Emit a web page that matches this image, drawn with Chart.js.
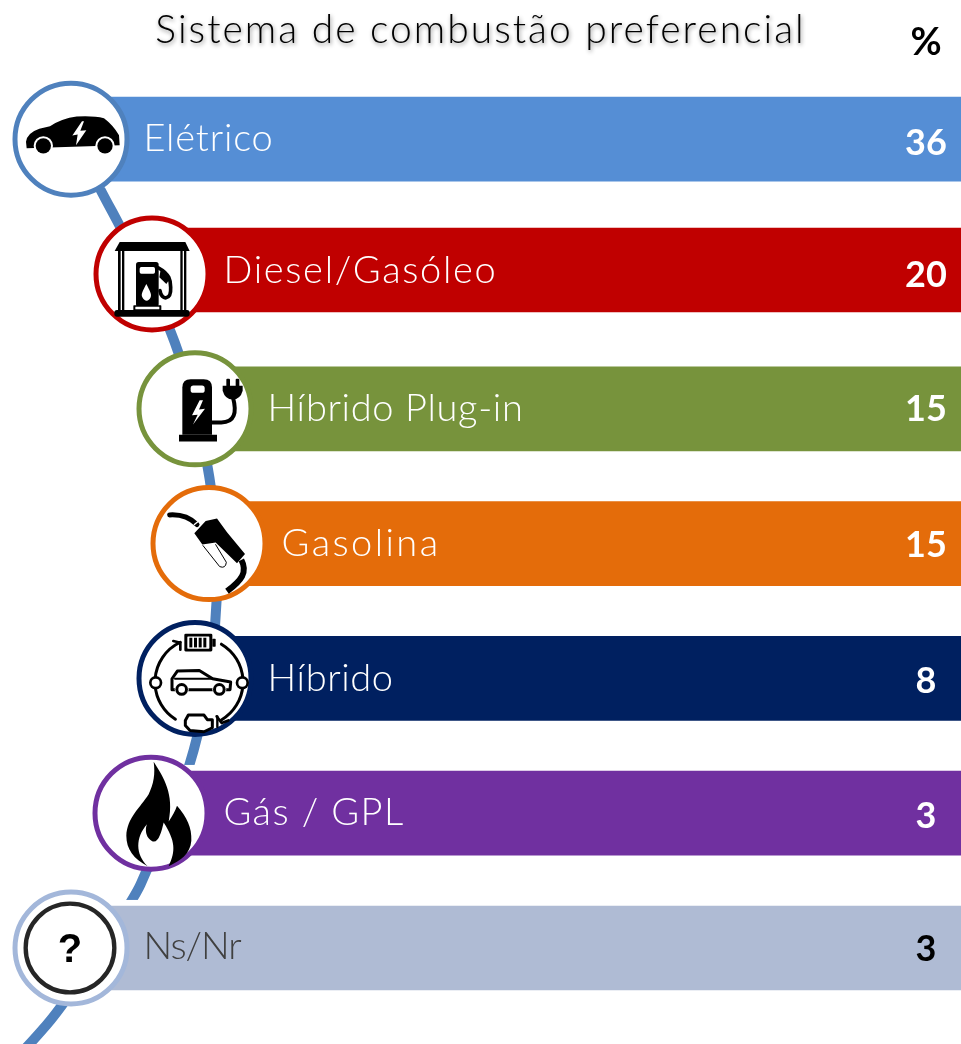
<!DOCTYPE html>
<html lang="pt">
<head>
<meta charset="utf-8">
<title>Sistema de combustão preferencial</title>
<script src="https://cdn.jsdelivr.net/npm/chart.js@4"></script>
<style>html,body{margin:0;padding:0;background:#fff}canvas{display:block}</style>
</head>
<body>
<canvas id="c" width="961" height="1044"></canvas>
<script>
const chartTitle = 'Sistema de combustão preferencial';
const unitLabel = '%';
const categories = ['Elétrico','Diesel/Gasóleo','Híbrido Plug-in','Gasolina','Híbrido','Gás / GPL','Ns/Nr'];
const shares = [36,20,15,15,8,3,3];
const barStarts = [71,152,195,209,195,151,71];
const barEnds = [961,961,961,961,961,961,961];
const barColors = ['#558ED5','#C00000','#77933C','#E46C0A','#002060','#7030A0','#AFBBD4'];
const ringColors = ['#4F81BD','#C00000','#77933C','#E46C0A','#002060','#7030A0','#A3B7DA'];
const textColors = ['#fff','#fff','#fff','#fff','#fff','#fff','#404040'];
const valueColors = ['#fff','#fff','#fff','#fff','#fff','#fff','#000'];

const LABEL_FONT = '300 38px Lato';
const VALUE_FONT = '700 36px Lato';
const labelFit = [130,274,256,159,126,181,97];
const barNudge = [0,-4,0,0,0,0,0];
const valueNudge = [4,1,1,2,3,3,1];
const labelNudge = [0,1,0,0,0,0,-1];
const spine = [[80,150],[103,195],[118,222],[178,340],[213,480],[220,605],[197,755],[146,872],[135,897],[63,1006],[30,1044],[10,1064]];

function poly(g, pts, fill){g.beginPath();pts.forEach((p,i)=>i?g.lineTo(p[0],p[1]):g.moveTo(p[0],p[1]));g.closePath();g.fillStyle=fill||'#000';g.fill();}
function rr(g,x,y,w,h,r,fill){g.beginPath();g.roundRect(x,y,w,h,r);g.fillStyle=fill||'#000';g.fill();}
function disc(g,x,y,r,fill){g.beginPath();g.arc(x,y,r,0,Math.PI*2);g.fillStyle=fill||'#000';g.fill();}
function stroke(g,w,fn,col){g.beginPath();fn();g.lineWidth=w;g.strokeStyle=col||'#000';g.lineCap='round';g.lineJoin='round';g.stroke();}

const icons = [
 {c:[210,207],d(g){
   g.beginPath();g.moveTo(78,215);g.quadraticCurveTo(82,188,118,176);g.lineTo(150,168);g.quadraticCurveTo(185,145,230,139);g.quadraticCurveTo(280,136,312,144);
   g.quadraticCurveTo(340,165,357,195);g.lineTo(359,225);g.lineTo(80,234);g.closePath();g.fillStyle='#000';g.fill();
   disc(g,130,227,29,'#fff');disc(g,315,227,29,'#fff');disc(g,130,227,23);disc(g,315,227,23);
   poly(g,[[246,153],[217,196],[233,193],[228,225],[259,180],[241,182],[252,153]],'#fff');
 }},
 {c:[449,610],d(g){
   poly(g,[[355,514],[552,514],[565,541],[340,541]]);
   rr(g,350,541,8,180,0);rr(g,362,541,7,180,0);rr(g,537,541,7,180,0);rr(g,548,541,7,180,0);
   rr(g,339,718,226,20,8);
   rr(g,404,574,68,134,8);rr(g,415,589,46,20,5,'#fff');
   g.beginPath();g.moveTo(435,640);g.bezierCurveTo(425,660,418,670,423,680);g.bezierCurveTo(430,694,442,694,448,680);g.bezierCurveTo(452,670,445,660,435,640);g.fillStyle='#fff';g.fill();
   rr(g,396,704,84,15,2);rr(g,402,708,72,8,1,'#fff');
   stroke(g,11,()=>{g.moveTo(472,592);g.bezierCurveTo(505,610,508,630,508,650);g.bezierCurveTo(510,690,480,690,476,660);});
   poly(g,[[478,597],[505,625],[495,640],[474,620]]);
 }},
 {c:[223,204],d(g){
   g.beginPath();g.moveTo(188,282);g.lineTo(188,140);g.quadraticCurveTo(188,115,213,115);g.lineTo(252,115);g.quadraticCurveTo(277,115,277,140);g.lineTo(277,282);g.closePath();g.fillStyle='#000';g.fill();
   rr(g,178,282,114,20,0);rr(g,213,134,42,22,8,'#fff');
   poly(g,[[240,178],[217,223],[234,222],[220,251],[256,204],[238,206],[250,178]],'#fff');
   stroke(g,12,()=>{g.moveTo(277,245);g.lineTo(305,245);g.bezierCurveTo(345,245,352,215,340,170);});
   g.beginPath();g.moveTo(309,135);g.lineTo(369,135);g.lineTo(369,150);g.quadraticCurveTo(362,176,339,176);g.quadraticCurveTo(316,176,309,150);g.closePath();g.fillStyle='#000';g.fill();
   rr(g,320,114,11,24,3);rr(g,348,114,11,24,3);
 }},
 {c:[265,609],d(g){
   stroke(g,15,()=>{g.moveTo(150,523);g.quadraticCurveTo(200,520,232,552);});
   poly(g,[[224,578],[258,541],[292,534],[322,575],[376,640],[352,668],[308,625],[288,606],[248,612]]);
   stroke(g,4,()=>{g.moveTo(224,552);g.lineTo(244,536);},'#fff');
   g.beginPath();g.moveTo(250,615);g.lineTo(300,678);g.quadraticCurveTo(318,685,320,665);g.lineTo(288,612);g.lineWidth=3;g.strokeStyle='#000';g.stroke();
   g.lineCap='butt';g.beginPath();g.moveTo(365,658);g.bezierCurveTo(385,695,365,720,322,752);g.lineWidth=18;g.stroke();
 }},
 {c:[582,204],d(g){
   const R=132,cx=597,cy=215;
   stroke(g,9,()=>{g.arc(cx,cy,R,Math.PI*1.02,Math.PI*1.36);});
   stroke(g,9,()=>{g.arc(cx,cy,R,Math.PI*1.67,Math.PI*1.98);});
   stroke(g,9,()=>{g.arc(cx,cy,R,Math.PI*0.02,Math.PI*0.33);});
   stroke(g,9,()=>{g.arc(cx,cy,R,Math.PI*0.68,Math.PI*0.98);});
   stroke(g,8,()=>{g.moveTo(520,92);g.lineTo(541,97);g.lineTo(541,118);});
   stroke(g,8,()=>{g.moveTo(650,318);g.lineTo(665,338);g.lineTo(685,330);});
   rr(g,553,70,84,53,4);rr(g,562,78,66,37,2,'#fff');rr(g,637,85,10,24,2);
   [568,582,596,610].forEach(x=>rr(g,x,82,9,29,0));
   [467,727].forEach(x=>{disc(g,x,217,20);disc(g,x,217,12,'#fff');});
   stroke(g,9,()=>{g.moveTo(516,238);g.lineTo(516,205);g.lineTo(532,182);g.lineTo(598,180);g.lineTo(638,205);g.lineTo(692,215);g.lineTo(690,238);g.closePath();});
   stroke(g,6,()=>{g.moveTo(525,205);g.lineTo(640,205);});
   [545,658].forEach(x=>{disc(g,x,237,21,'#fff');disc(g,x,237,19);disc(g,x,237,10,'#fff');});
   stroke(g,9,()=>{g.moveTo(556,330);g.lineTo(565,314);g.lineTo(612,314);g.lineTo(622,328);g.lineTo(637,328);g.lineTo(637,352);g.lineTo(612,364);g.lineTo(570,360);g.lineTo(556,345);g.closePath();});
   stroke(g,7,()=>{g.moveTo(652,318);g.lineTo(652,350);});
 }},
 {c:[449,607],d(g){
   g.beginPath();g.moveTo(460,453);g.bezierCurveTo(490,500,522,550,505,632);g.bezierCurveTo(517,615,525,600,530,585);
   g.bezierCurveTo(560,620,575,650,573,690);g.bezierCurveTo(570,730,540,750,505,766);g.bezierCurveTo(527,720,525,690,490,635);
   g.bezierCurveTo(482,670,470,712,445,682);g.bezierCurveTo(435,670,435,650,440,640);g.bezierCurveTo(405,680,405,730,442,766);
   g.bezierCurveTo(400,745,378,715,378,675);g.bezierCurveTo(380,620,420,590,445,550);g.bezierCurveTo(460,520,465,490,460,453);g.closePath();g.fillStyle='#000';g.fill();
 }},
 {c:[210,262],d(g){
   stroke(g,13,()=>{g.arc(210,262,133,0,Math.PI*2);},'#262626');
   g.fillStyle='#000';g.font='700 120px "Liberation Sans"';g.textAlign='center';g.textBaseline='middle';g.fillText('?',210,270);
 }}
];

const infographic = {
  id:'infographic',
  beforeDraw(chart){
    const g=chart.ctx;g.save();g.shadowColor='rgba(0,0,0,.45)';g.shadowBlur=4;g.shadowOffsetX=1;g.shadowOffsetY=2;g.letterSpacing='2px';
  },
  afterDatasetsUpdate(chart){
    chart.getDatasetMeta(0).data.forEach((el,i)=>{el.y+=barNudge[i];});
  },
  beforeDatasetsDraw(chart){
    const g=chart.ctx;g.restore();
    g.save();g.beginPath();g.moveTo(spine[0][0],spine[0][1]);
    for(let i=1;i<spine.length-1;i++){const p=spine[i],q=spine[i+1];g.quadraticCurveTo(p[0],p[1],(p[0]+q[0])/2,(p[1]+q[1])/2);}
    const l=spine[spine.length-1];g.lineTo(l[0],l[1]);
    g.lineWidth=10;g.strokeStyle='#4F81BD';g.lineJoin='round';g.stroke();g.restore();
  },
  afterDatasetsDraw(chart){
    const g=chart.ctx,xs=chart.scales.x,ys=chart.scales.y,meta=chart.getDatasetMeta(0);
    categories.forEach((name,i)=>{
      const cx=xs.getPixelForValue(barStarts[i]),cy=ys.getPixelForTick(i),barY=meta.data[i].y;
      g.save();
      g.beginPath();g.arc(cx,cy,56,0,Math.PI*2);g.fillStyle='#fff';g.fill();g.lineWidth=5;g.strokeStyle=ringColors[i];g.stroke();
      const ic=icons[i];
      g.save();g.translate(cx-1,cy);g.scale(1/3,1/3);g.translate(-ic.c[0],-ic.c[1]);ic.d(g);g.restore();
      g.restore();
      g.save();
      g.font=LABEL_FONT;g.fillStyle=textColors[i];g.textAlign='left';g.textBaseline='middle';
      g.letterSpacing='0px';
      const natural=g.measureText(name).width;
      g.letterSpacing=((labelFit[i]-natural)/name.length)+'px';
      g.fillText(name,cx+72.5-(i===1?1:0),barY+labelNudge[i]);
      g.letterSpacing='0px';
      g.font=VALUE_FONT;g.fillStyle=valueColors[i];g.textAlign='center';
      g.fillText(String(shares[i]),926,barY+valueNudge[i]+(i===1?4:0));
      g.restore();
    });
    g.save();g.font='700 38px Lato';g.fillStyle='#000';g.textAlign='center';g.textBaseline='middle';g.fillText(unitLabel,926,43);g.restore();
  }
};

new Chart(document.getElementById('c'),{
  type:'bar',
  data:{labels:categories,datasets:[{
    label:chartTitle,
    data:categories.map((c,i)=>[barStarts[i],barEnds[i]]),
    backgroundColor:barColors,
    borderColor:'#fff',borderWidth:6,borderSkipped:'end',
    barThickness:96
  }]},
  options:{
    indexAxis:'y',responsive:false,animation:false,
    layout:{padding:{left:0,right:0,top:0,bottom:28.6}},
    scales:{
      x:{type:'linear',min:0,max:961,display:false,grid:{display:false}},
      y:{type:'category',display:false,grid:{display:false}}
    },
    plugins:{
      legend:{display:false},tooltip:{enabled:false},
      title:{display:true,text:chartTitle,color:'#000',align:'center',font:{family:'Lato',size:39,weight:'300',lineHeight:1.2},padding:{top:7,bottom:18}}
    }
  },
  plugins:[infographic]
});
</script>
</body>
</html>
